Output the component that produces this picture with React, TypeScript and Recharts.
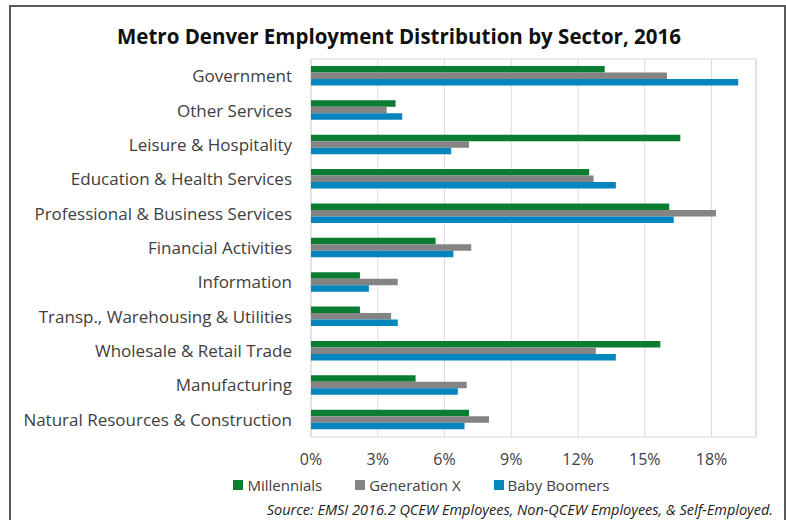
import {
  BarChart,
  Bar,
  XAxis,
  YAxis,
  CartesianGrid,
  Legend,
  ReferenceArea,
} from "recharts";

// sectors, top to bottom as in the chart
const sectors = [
  "Government",
  "Other Services",
  "Leisure & Hospitality",
  "Education & Health Services",
  "Professional & Business Services",
  "Financial Activities",
  "Information",
  "Transp., Warehousing & Utilities",
  "Wholesale & Retail Trade",
  "Manufacturing",
  "Natural Resources & Construction",
];

// share of each generation's employment (%)
const millennials = [13.2, 3.8, 16.6, 12.5, 16.1, 5.6, 2.2, 2.2, 15.7, 4.7, 7.1];
const generationX = [16.0, 3.4, 7.1, 12.7, 18.2, 7.2, 3.9, 3.6, 12.8, 7.0, 8.0];
const babyBoomers = [19.2, 4.1, 6.3, 13.7, 16.3, 6.4, 2.6, 3.9, 13.7, 6.6, 6.9];

const xTicks = [0, 3, 6, 9, 12, 15, 18];

const data = sectors.map((name, i) => ({
  name,
  millennials: millennials[i],
  genX: generationX[i],
  boomers: babyBoomers[i],
}));

const font = "'Open Sans', 'Noto Sans', sans-serif";
const textColor = "#404040";

const legendItems = [
  { label: "Millennials", color: "#0b7d32" },
  { label: "Generation X", color: "#848484" },
  { label: "Baby Boomers", color: "#0385bd" },
];

function LegendContent() {
  return (
    <div
      style={{
        display: "flex",
        justifyContent: "center",
        gap: 33,
        fontSize: 15,
        color: textColor,
        fontFamily: font,
        paddingLeft: 57,
      }}
    >
      {legendItems.map((it) => (
        <div key={it.label} style={{ display: "flex", alignItems: "center" }}>
          <span
            style={{
              display: "inline-block",
              width: 10,
              height: 10,
              background: it.color,
              marginRight: 4,
            }}
          />
          {it.label}
        </div>
      ))}
    </div>
  );
}

export default function App() {
  return (
    <div
      style={{
        position: "absolute",
        left: 0,
        top: 0,
        width: 786,
        height: 520,
        overflow: "hidden",
        background: "#fff",
        fontFamily: font,
      }}
    >
      <div
        style={{
          position: "absolute",
          left: 9,
          top: 5,
          width: 773,
          height: 540,
          border: "2px solid #595959",
        }}
      />
      <div
        style={{
          position: "absolute",
          left: 0,
          top: 22,
          width: 798,
          textAlign: "center",
          fontSize: 20.5,
          fontWeight: 700,
          color: "#111",
        }}
      >
        Metro Denver Employment Distribution by Sector, 2016
      </div>
      <div style={{ position: "absolute", left: 0, top: 0 }}>
        <BarChart
          width={786}
          height={520}
          data={data}
          layout="vertical"
          margin={{ top: 59, right: 30, bottom: 33, left: 0 }}
          barGap={0}
          barSize={6.5}
        >
          <CartesianGrid horizontal={false} stroke="#dcdcdc" />
          <ReferenceArea
            x1={0}
            x2={20}
            fill="none"
            stroke="#d9d9d9"
            strokeOpacity={1}
            fillOpacity={0}
          />
          <XAxis
            type="number"
            domain={[0, 20]}
            ticks={xTicks}
            tickFormatter={(v) => `${v}%`}
            axisLine={false}
            tickLine={false}
            tickMargin={11}
            height={30}
            tick={{ fill: textColor, fontSize: 16, fontFamily: font }}
          />
          <YAxis
            type="category"
            dataKey="name"
            width={311}
            axisLine={false}
            tickLine={false}
            tickMargin={13}
            interval={0}
            tick={{ fill: textColor, fontSize: 17, fontFamily: font }}
          />
          <Legend
            verticalAlign="bottom"
            content={<LegendContent />}
            wrapperStyle={{ left: 0, width: 786, bottom: 25 }}
          />
          <Bar dataKey="millennials" name="Millennials" fill="#0b7d32" isAnimationActive={false} />
          <Bar dataKey="genX" name="Generation X" fill="#848484" isAnimationActive={false} />
          <Bar dataKey="boomers" name="Baby Boomers" fill="#0385bd" isAnimationActive={false} />
        </BarChart>
      </div>
      <div
        style={{
          position: "absolute",
          right: 13,
          top: 500,
          fontSize: 14.5,
          fontStyle: "italic",
          color: "#222",
          whiteSpace: "nowrap",
        }}
      >
        Source: EMSI 2016.2 QCEW Employees, Non-QCEW Employees, &amp; Self-Employed.
      </div>
    </div>
  );
}
